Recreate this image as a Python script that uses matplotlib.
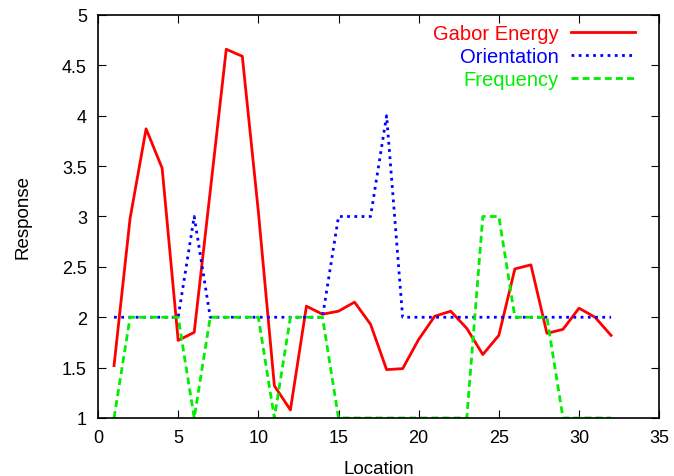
import matplotlib
matplotlib.use("Agg")
import matplotlib.pyplot as plt

plt.rcParams["font.family"] = ["Liberation Sans", "DejaVu Sans"]

location = list(range(1, 33))
gabor_energy = [1.52, 2.98, 3.87, 3.48, 1.77, 1.85, 3.25, 4.66, 4.59, 3.05,
                1.32, 1.08, 2.11, 2.03, 2.06, 2.15, 1.93, 1.48, 1.49, 1.78,
                2.01, 2.06, 1.89, 1.63, 1.82, 2.48, 2.52, 1.84, 1.88, 2.09,
                2.00, 1.82]
orientation = [2, 2, 2, 2, 2, 3, 2, 2, 2, 2, 2, 2, 2, 2, 3, 3, 3, 4, 2, 2,
               2, 2, 2, 2, 2, 2, 2, 2, 2, 2, 2, 2]
frequency = [1, 2, 2, 2, 2, 1, 2, 2, 2, 2, 1, 2, 2, 2, 1, 1, 1, 1, 1, 1,
             1, 1, 1, 3, 3, 2, 2, 2, 1, 1, 1, 1]

fig = plt.figure(figsize=(6.74, 4.77), dpi=100)
ax = fig.add_axes([0.1454, 0.1216, 0.8326, 0.8449])

ax.plot(location, gabor_energy, color="#ff0000", lw=2, label="Gabor Energy")
ax.plot(location, orientation, color="#0000ff", lw=2, ls=(0, (1, 1.6)), label="Orientation")
ax.plot(location, frequency, color="#00ee00", lw=2, ls=(0, (2.5, 1.5)), label="Frequency")

ax.set_xlim(0, 35)
ax.set_ylim(1, 5)
ax.set_xticks(range(0, 36, 5))
ax.set_yticks([1, 1.5, 2, 2.5, 3, 3.5, 4, 4.5, 5])
ax.set_yticklabels(["1", "1.5", "2", "2.5", "3", "3.5", "4", "4.5", "5"])
ax.tick_params(direction="in", length=6, top=True, right=True, labelsize=13, pad=8)
ax.set_xlabel("Location", fontsize=13.5, labelpad=10)
ax.set_ylabel("Response", fontsize=13.5, labelpad=22)
for s in ax.spines.values():
    s.set_linewidth(1.2)

ax.legend(loc="upper right", frameon=False, markerfirst=False, labelcolor="linecolor",
          fontsize=14.5, handlelength=3.2, handletextpad=0.6, labelspacing=0.2,
          borderaxespad=0.0, bbox_to_anchor=(0.972, 0.998))

fig.savefig("out.png", dpi=100)
